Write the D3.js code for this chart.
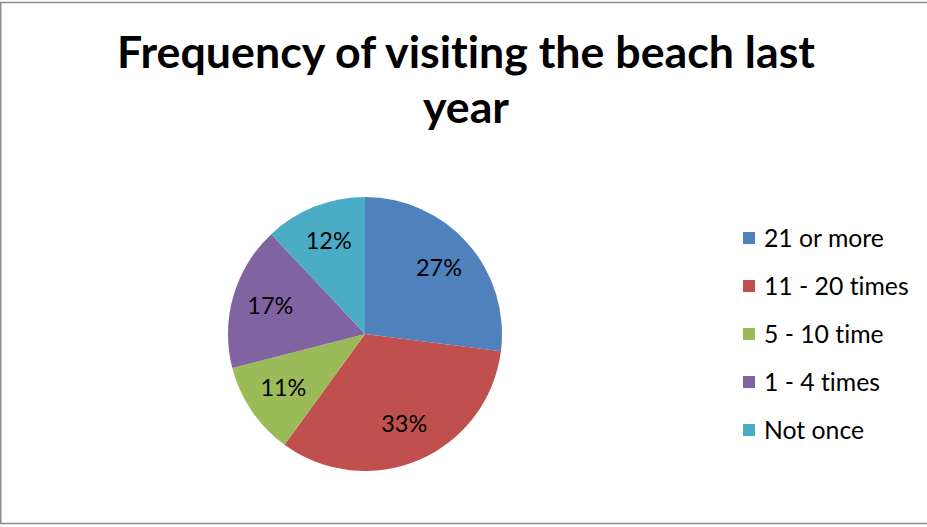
<!DOCTYPE html>
<html>
<head>
<meta charset="utf-8">
<script src="https://cdn.jsdelivr.net/npm/d3@7"></script>
<style>
  body { margin: 0; background: #fff; }
  text { font-family: Lato, "Noto Sans", sans-serif; fill: #000; font-variant-ligatures: none; }
</style>
</head>
<body>
<div id="grafico"></div>
<script>
// dados do grafico
var categorias = ["21 or more", "11 - 20 times", "5 - 10 time", "1 - 4 times", "Not once"];
var valores = [27, 33, 11, 17, 12];
var cores = ["#4F81BD", "#C0504D", "#9BBB59", "#8064A2", "#4BACC6"];
var titulo = ["Frequency of visiting the beach last", "year"];

var width = 927, height = 527;
var cx = 365, cy = 334, raio = 137;

var svg = d3.select("#grafico").append("svg")
    .attr("width", width)
    .attr("height", height);

// borda do grafico
svg.append("rect")
    .attr("x", 0.75).attr("y", 2.5)
    .attr("width", width + 10).attr("height", 521)
    .attr("fill", "#fff")
    .attr("stroke", "#8c8c8c")
    .attr("stroke-width", 1.5);

// titulo, ajusta o tamanho pela largura
var tit = svg.append("g");
titulo.forEach(function(t, i) {
  tit.append("text")
      .attr("x", 466)
      .attr("y", 68 + i * 55)
      .attr("text-anchor", "middle")
      .style("font-weight", "bold")
      .style("font-size", "40px")
      .text(t);
});
var w0 = tit.select("text").node().getComputedTextLength();
tit.selectAll("text").style("font-size", (40 * 698 / w0) + "px");

// pizza
var pie = d3.pie().sort(null).value(function(d) { return d; });
var arc = d3.arc().innerRadius(0).outerRadius(raio);
var arcLabel = d3.arc().innerRadius(raio * 0.72).outerRadius(raio * 0.72);

var g = svg.append("g")
    .attr("transform", "translate(" + cx + "," + cy + ")");

var fatias = pie(valores);

g.selectAll("path")
    .data(fatias)
  .enter().append("path")
    .attr("d", arc)
    .attr("fill", function(d, i) { return cores[i]; });

var total = d3.sum(valores);
var rotulos = g.selectAll("text.rot")
    .data(fatias)
  .enter().append("text")
    .attr("class", "rot")
    .attr("transform", function(d) { return "translate(" + arcLabel.centroid(d) + ")"; })
    .attr("text-anchor", "middle")
    .attr("dy", "0.3em")
    .style("font-size", "22px")
    .text(function(d) { return Math.round(d.value / total * 100) + "%"; });
var w1 = rotulos.node().getComputedTextLength();
rotulos.style("font-size", (22 * 46 / w1) + "px");

// legenda
var leg = svg.append("g");
var itens = leg.selectAll("g")
    .data(categorias)
  .enter().append("g")
    .attr("transform", function(d, i) { return "translate(743," + (238 + i * 48) + ")"; });

itens.append("rect")
    .attr("x", 0).attr("y", -6)
    .attr("width", 12).attr("height", 12)
    .attr("fill", function(d, i) { return cores[i]; });

var txt = itens.append("text")
    .attr("x", 21)
    .attr("dy", "0.35em")
    .style("font-size", "20px")
    .text(function(d) { return d; });
var w2 = txt.node().getComputedTextLength();
txt.style("font-size", (20 * 120 / w2) + "px");
</script>
</body>
</html>
